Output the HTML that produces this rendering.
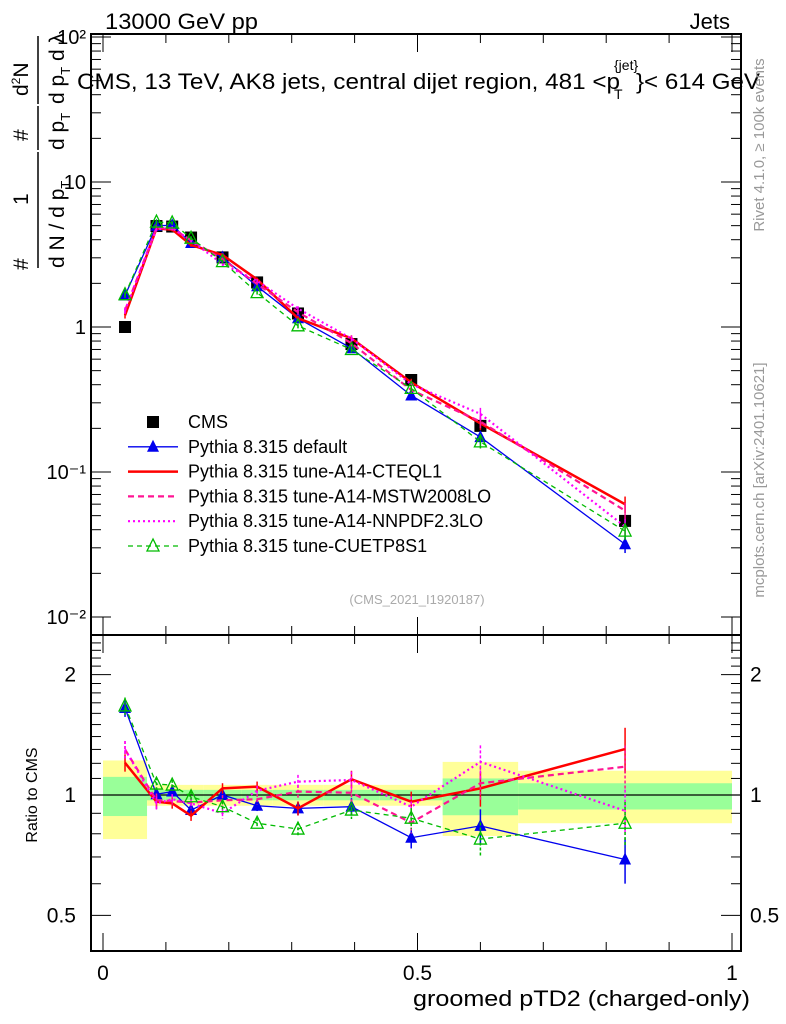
<!DOCTYPE html>
<html><head><meta charset="utf-8">
<style>
html,body{margin:0;padding:0;background:#fff;}
svg{display:block;font-family:"Liberation Sans",sans-serif;}
</style></head>
<body>
<svg id="c" width="786" height="1024" xmlns="http://www.w3.org/2000/svg">
<g id="bands"></g>
<g id="axes"></g>
<g id="series"></g>
<text x="105" y="29" font-size="22" textLength="153" lengthAdjust="spacingAndGlyphs">13000 GeV pp</text>
<text x="730" y="29" font-size="22" text-anchor="end">Jets</text>
<g font-size="22">
<text x="77" y="89" textLength="543" lengthAdjust="spacingAndGlyphs">CMS, 13 TeV, AK8 jets, central dijet region, 481 &lt;p</text>
<text x="614" y="70" font-size="14">{jet}</text>
<text x="614" y="99" font-size="14">T</text>
<text x="636" y="89" textLength="124" lengthAdjust="spacingAndGlyphs">}&lt; 614 GeV</text>
</g>
<text transform="translate(764,145) rotate(-90)" font-size="15" fill="#999" text-anchor="middle">Rivet 4.1.0, ≥ 100k events</text>
<text transform="translate(764,480) rotate(-90)" font-size="15" fill="#999" text-anchor="middle">mcplots.cern.ch [arXiv:2401.10621]</text>
<text x="417" y="604" font-size="13" fill="#aaa" text-anchor="middle">(CMS_2021_I1920187)</text>
<g font-size="21">
<text transform="translate(28,270) rotate(-90)">#</text>
<text transform="translate(28,205) rotate(-90)">1</text>
<line x1="38" y1="268" x2="38" y2="152" stroke="#000" stroke-width="1.5"/>
<text transform="translate(64,268) rotate(-90)">d N / d p<tspan font-size="13" dy="6">T</tspan></text>
<text transform="translate(28,141) rotate(-90)">#</text>
<line x1="38" y1="150" x2="38" y2="106" stroke="#000" stroke-width="1.5"/>
<text transform="translate(64,150) rotate(-90)">d p<tspan font-size="13" dy="6">T</tspan></text>
<text transform="translate(28,96) rotate(-90)">d<tspan font-size="12" dy="-8">2</tspan><tspan dy="8">N</tspan></text>
<line x1="38" y1="104" x2="38" y2="36" stroke="#000" stroke-width="1.5"/>
<text transform="translate(64,104) rotate(-90)">d p<tspan font-size="13" dy="6">T</tspan><tspan dy="-6"> d λ</tspan></text>
</g>
<text transform="translate(37,795) rotate(-90)" font-size="16" text-anchor="middle">Ratio to CMS</text>
<text x="750" y="1006" font-size="22" textLength="337" lengthAdjust="spacingAndGlyphs" text-anchor="end">groomed pTD2 (charged-only)</text>
<g id="legend"></g>
</svg>
<script>
const binEdges = [0,0.07,0.1,0.12,0.16,0.22,0.27,0.35,0.44,0.54,0.66,1.0];
const xCenters = [0.035,0.085,0.11,0.14,0.19,0.245,0.31,0.395,0.49,0.6,0.83];
const cmsValues = [1.0,4.97,4.93,4.14,3.02,2.03,1.24,0.763,0.431,0.208,0.046];
const statBandHi = [1.11,1.03,1.03,1.03,1.03,1.03,1.03,1.03,1.03,1.10,1.07];
const statBandLo = [0.886,0.97,0.97,0.97,0.97,0.97,0.97,0.97,0.97,0.89,0.92];
const totBandHi = [1.22,1.06,1.06,1.06,1.06,1.06,1.06,1.06,1.06,1.21,1.15];
const totBandLo = [0.776,0.94,0.94,0.94,0.94,0.94,0.94,0.94,0.94,0.79,0.85];
const ratioDefault = [1.65,1.004,1.02,0.917,1.0,0.94,0.926,0.935,0.782,0.837,0.69];
const ratioA14 = [1.204,0.962,0.953,0.888,1.039,1.049,0.926,1.095,0.962,1.039,1.303];
const ratioMSTW = [1.3,0.97,0.966,0.957,0.97,0.976,1.02,1.013,0.853,1.07,1.177];
const ratioNNPDF = [1.3,0.953,0.976,0.953,0.9,1.025,1.08,1.09,0.935,1.21,0.913];
const ratioCUETP = [1.67,1.065,1.059,0.99,0.935,0.85,0.822,0.917,0.875,0.776,0.85];
const relErr = [0.05,0.04,0.03,0.03,0.03,0.03,0.04,0.05,0.06,0.1,0.13];
const xTicks = [0,0.5,1];
const xTickLabels = ["0","0.5","1"];
const yTicks = [0.01,0.1,1,10,100];
const yTickLabels = ["10⁻²","10⁻¹","1","10","10²"];
const rTicks = [0.5,1,2];
const rTickLabels = ["0.5","1","2"];

const L=91,R=741,T=34,M=635,B=951;
const X=v=>103+629*v;
const Y=v=>327-145*Math.log10(v);
const YR=v=>795-400*Math.log10(v);
const NS="http://www.w3.org/2000/svg";
function mk(tag,attrs,parent){const e=document.createElementNS(NS,tag);for(const k in attrs)e.setAttribute(k,attrs[k]);parent.appendChild(e);return e;}
const ax=document.getElementById('axes'),bands=document.getElementById('bands'),ser=document.getElementById('series'),leg=document.getElementById('legend');

for(let i=0;i<xCenters.length;i++){
  const x0=X(binEdges[i]),x1=X(binEdges[i+1]);
  let r=mk('rect',{x:x0,y:YR(totBandHi[i]),width:x1-x0,height:YR(totBandLo[i])-YR(totBandHi[i]),fill:'#ffff99'},bands);
  
  
  r=mk('rect',{x:x0,y:YR(statBandHi[i]),width:x1-x0,height:YR(statBandLo[i])-YR(statBandHi[i]),fill:'#99ff99'},bands);
  
  
}
mk('line',{x1:L,x2:R,y1:YR(1),y2:YR(1),stroke:'#000','stroke-width':1.3},bands);

mk('rect',{x:L,y:T,width:R-L,height:M-T,fill:'none',stroke:'#000','stroke-width':2},ax);
mk('rect',{x:L,y:M,width:R-L,height:B-M,fill:'none',stroke:'#000','stroke-width':2},ax);
for(let v=0;v<=1.0001;v+=0.1){
  const big=Math.abs(v-0.5)<1e-6||v<1e-6||Math.abs(v-1)<1e-6; const len=big?18:9;
  [[T,1],[M,-1],[M,1],[B,-1]].forEach(([y,d])=>mk('line',{x1:X(v),x2:X(v),y1:y,y2:y+d*len,stroke:'#000','stroke-width':1},ax));
}
xTicks.forEach((v,i)=>{const t=mk('text',{x:X(v),y:980,'font-size':21,'text-anchor':'middle'},ax);t.textContent=xTickLabels[i];
 
 });
for(let d=-2;d<=2;d++){for(let m=1;m<10;m++){const v=m*Math.pow(10,d);if(v>100.5||Y(v)<T)break;const len=m==1?20:10;
 mk('line',{x1:L,x2:L+len,y1:Y(v),y2:Y(v),stroke:'#000'},ax);mk('line',{x1:R,x2:R-len,y1:Y(v),y2:Y(v),stroke:'#000'},ax);}}
yTicks.forEach((v,i)=>{const t=mk('text',{x:86,y:Y(v)+7,'font-size':20,'text-anchor':'end'},ax);t.textContent=yTickLabels[i];
 
 });
for(let v=0.4;v<=2.5;v+=0.1){const y=YR(v);if(y<M||y>B)continue;const major=[0.5,1,2].some(q=>Math.abs(q-v)<1e-6);const len=major?20:10;
 mk('line',{x1:L,x2:L+len,y1:y,y2:y,stroke:'#000'},ax);mk('line',{x1:R,x2:R-len,y1:y,y2:y,stroke:'#000'},ax);}
rTicks.forEach((v,i)=>{let t=mk('text',{x:76,y:YR(v)+7,'font-size':21,'text-anchor':'end'},ax);t.textContent=rTickLabels[i];
 
 
 t=mk('text',{x:750,y:YR(v)+7,'font-size':21},ax);t.textContent=rTickLabels[i];
 
 });

function marker(kind,x,y,color,g){
  if(kind==='sq') mk('rect',{x:x-6,y:y-6,width:12,height:12,fill:'#000'},g);
  else if(kind==='tri') mk('polygon',{points:`${x},${y-7} ${x-6},${y+5} ${x+6},${y+5}`,fill:color},g);
  else if(kind==='otri') mk('polygon',{points:`${x},${y-7} ${x-6},${y+5} ${x+6},${y+5}`,fill:'none',stroke:color,'stroke-width':1.3},g);
}
const seriesDefs=[
 {name:'Pythia 8.315 default',ratio:ratioDefault,color:'#0000ee',dash:'',w:1.3,mk:'tri',id:'series-default'},
 {name:'Pythia 8.315 tune-A14-CTEQL1',ratio:ratioA14,color:'#ff0000',dash:'',w:2.5,mk:'',id:'series-a14-cteql1'},
 {name:'Pythia 8.315 tune-A14-MSTW2008LO',ratio:ratioMSTW,color:'#ff1493',dash:'6,4',w:2.2,mk:'',id:'series-a14-mstw2008lo'},
 {name:'Pythia 8.315 tune-A14-NNPDF2.3LO',ratio:ratioNNPDF,color:'#ff00ff',dash:'2,3',w:2.2,mk:'',id:'series-a14-nnpdf23lo'},
 {name:'Pythia 8.315 tune-CUETP8S1',ratio:ratioCUETP,color:'#00bb00',dash:'5,4',w:1.3,mk:'otri',id:'series-cuetp8s1'},
];
seriesDefs.forEach(s=>{
  const g=mk('g',{},ser);
  
  
  const top=s.ratio.map((r,i)=>r*cmsValues[i]);
  mk('polyline',{points:top.map((v,i)=>X(xCenters[i])+','+Y(v)).join(' '),fill:'none',stroke:s.color,'stroke-width':s.w,'stroke-dasharray':s.dash},g);
  mk('polyline',{points:s.ratio.map((v,i)=>X(xCenters[i])+','+YR(v)).join(' '),fill:'none',stroke:s.color,'stroke-width':s.w,'stroke-dasharray':s.dash},g);
  xCenters.forEach((xc,i)=>{
    const e=relErr[i];
    mk('line',{x1:X(xc),x2:X(xc),y1:Y(top[i]*(1+e)),y2:Y(top[i]*(1-e)),stroke:s.color,'stroke-width':1.5},g);
    mk('line',{x1:X(xc),x2:X(xc),y1:YR(s.ratio[i]*(1+e)),y2:YR(s.ratio[i]*(1-e)),stroke:s.color,'stroke-width':1.5,'stroke-dasharray':s.dash?'3,2':''},g);
    if(s.mk){marker(s.mk,X(xc),Y(top[i]),s.color,g);marker(s.mk,X(xc),YR(s.ratio[i]),s.color,g);}
  });
});
const cg=mk('g',{},ser);


cmsValues.forEach((v,i)=>marker('sq',X(xCenters[i]),Y(v),'#000',cg));
cg.parentNode.insertBefore(cg,cg.parentNode.firstChild);

const legItems=[{name:'CMS',mk:'sq',color:'#000',dash:'',w:0}].concat(seriesDefs);
legItems.forEach((s,i)=>{
  const y=422+i*24.8;
  const g=mk('g',{},leg);
  
  
  if(s.w) mk('line',{x1:128,x2:178,y1:y,y2:y,stroke:s.color,'stroke-width':s.w,'stroke-dasharray':s.dash},g);
  if(s.mk) marker(s.mk,153,y,s.color,g);
  const t=mk('text',{x:188,y:y+6,'font-size':18},g);t.textContent=s.name;
});
</script>
</body></html>
